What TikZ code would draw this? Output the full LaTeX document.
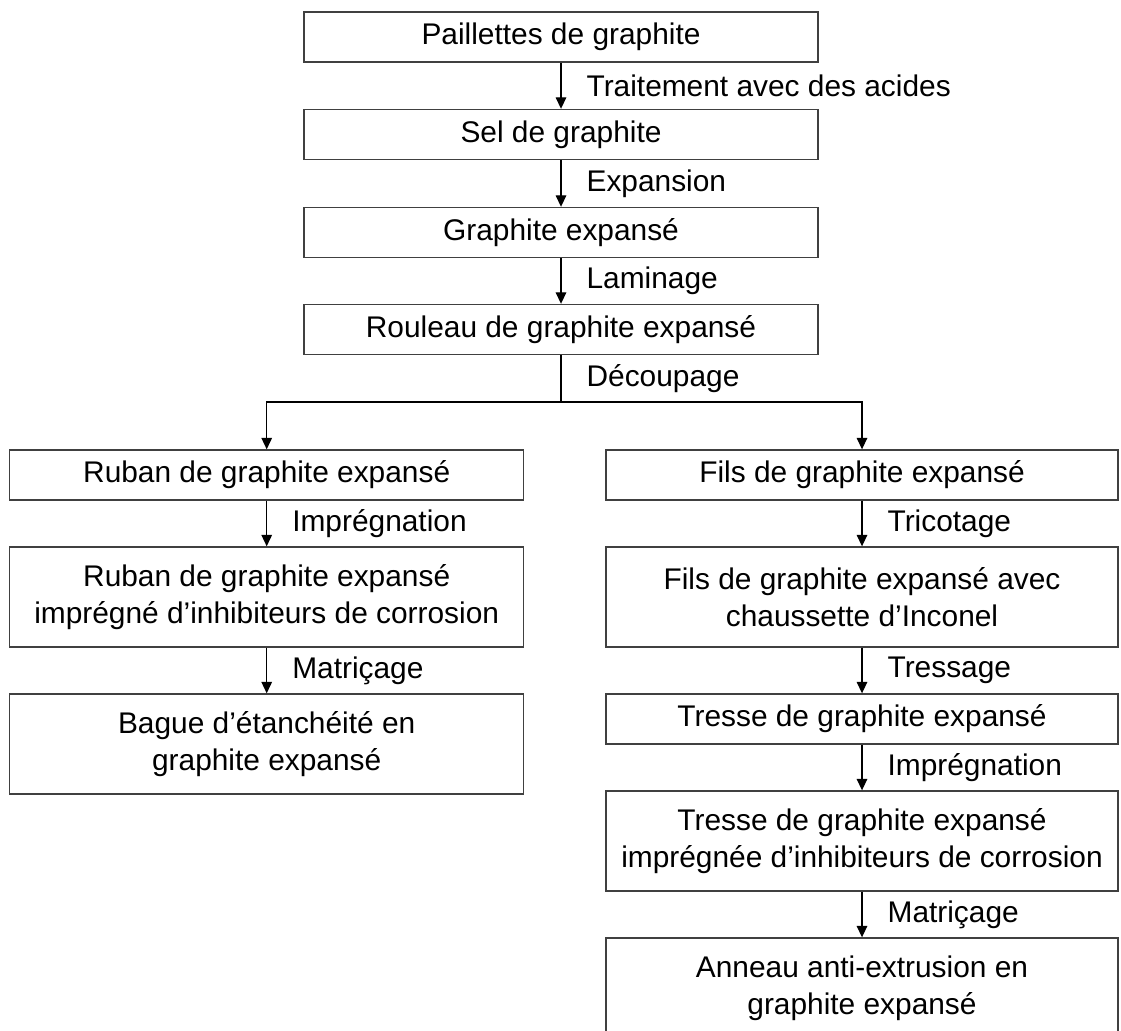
\documentclass[tikz,border=0pt]{standalone}
\usepackage{fontspec}
\setmainfont{Liberation Sans}
\usepackage{xcolor}
\usepackage{tikz}
\usetikzlibrary{calc,arrows.meta}
\definecolor{ink}{HTML}{000000}
\definecolor{frame}{HTML}{404040}
\tikzset{
  box/.style={draw=frame, line width=0.8pt, fill=white, align=center,
    minimum width=10.28cm, minimum height=1cm, inner sep=0pt},
  tallbox/.style={box, minimum height=2cm},
  rbox/.style={box, minimum width=10.24cm},
  rtallbox/.style={rbox, minimum height=2cm},
  flow/.style={draw=ink, line width=0.7pt, -{Triangle[length=6.5pt,width=6pt]}},
  plain/.style={draw=ink, line width=0.7pt},
  lab/.style={anchor=west, inner sep=0pt, xshift=0.5cm, text=ink},
  every node/.style={font=\fontsize{17}{21}\selectfont}
}
\begin{document}
\begin{tikzpicture}[x=0.02cm,y=-0.02cm]
  \useasboundingbox (0,0) rectangle (1121,1030);

  % tronc commun
  \node[box] (paillettes) at (561,37) {Paillettes de graphite};
  \node[box] (sel) at (561,134.5) {Sel de graphite};
  \node[box] (expanse) at (561,232.5) {Graphite expansé};
  \node[box] (rouleau) at (561,329.5) {Rouleau de graphite expansé};
  \coordinate (split) at (561,402);

  % branche gauche
  \node[box] (ruban) at (266.7,475) {Ruban de graphite expansé};
  \node[tallbox] (rubanimp) at (266.7,597) {Ruban de graphite expansé\\impr\'egn\'e d’inhibiteurs de corrosion};
  \node[tallbox] (bague) at (266.7,744) {Bague d’étanchéité en\\graphite expansé};

  % branche droite
  \node[rbox] (fils) at (862,475) {Fils de graphite expansé};
  \node[rtallbox] (chaussette) at (862,597) {Fils de graphite expansé avec\\chaussette d’Inconel};
  \node[rbox] (tresse) at (862,719) {Tresse de graphite expansé};
  \node[rtallbox] (tresseimp) at (862,841) {Tresse de graphite expansé\\imprégnée d’inhibiteurs de corrosion};
  \node[rtallbox] (anneau) at (862,988) {Anneau anti-extrusion en\\graphite expansé};

  \draw[flow] (paillettes) -- (sel) node[lab,midway] {Traitement avec des acides};
  \draw[flow] (sel) -- (expanse) node[lab,midway] {Expansion};
  \draw[flow] (expanse) -- (rouleau) node[lab,midway] {Laminage};
  \draw[plain] (rouleau) -- (split) node[lab,midway] {Découpage};
  \draw[flow] (split) -| (ruban);
  \draw[flow] (split) -| (fils);

  \draw[flow] (ruban) -- (rubanimp) node[lab,midway] {Imprégnation};
  \draw[flow] (rubanimp) -- (bague) node[lab,midway] {Matriçage};

  \draw[flow] (fils) -- (chaussette) node[lab,midway] {Tricotage};
  \draw[flow] (chaussette) -- (tresse) node[lab,midway] {Tressage};
  \draw[flow] (tresse) -- (tresseimp) node[lab,midway] {Imprégnation};
  \draw[flow] (tresseimp) -- (anneau) node[lab,midway] {Matriçage};
\end{tikzpicture}
\end{document}
